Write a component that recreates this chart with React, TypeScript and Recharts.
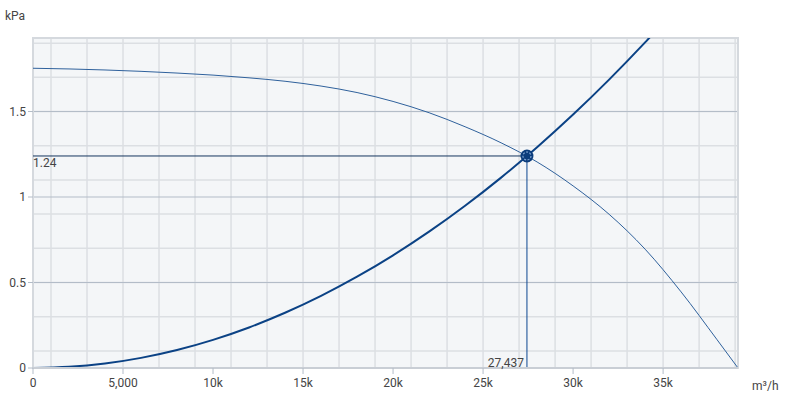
import React from 'react';
import {
  ComposedChart,
  Line,
  XAxis,
  YAxis,
  CartesianGrid,
  ReferenceLine,
  ReferenceDot,
  ReferenceArea,
} from 'recharts';

// pump curve (flow m³/h -> pressure kPa)
const pumpFlow = [0, 2000, 4000, 6000, 8000, 10000, 12000, 14000, 16000, 18000, 20000, 22000, 24000, 26000, 28000, 30000, 32000, 34000, 36000, 38000, 39160];
const pumpHead = [1.753, 1.749, 1.743, 1.735, 1.725, 1.713, 1.697, 1.677, 1.649, 1.611, 1.559, 1.493, 1.411, 1.317, 1.205, 1.065, 0.899, 0.695, 0.445, 0.165, 0];

// system curve
const sysFlow = [0, 2000, 4000, 6000, 8000, 10000, 12000, 14000, 16000, 18000, 20000, 22000, 24000, 26000, 27437, 28000, 30000, 32000, 34000, 36000];
const sysHead = [0, 0.0066, 0.0264, 0.0593, 0.1054, 0.1647, 0.2372, 0.3229, 0.4217, 0.5337, 0.6589, 0.7972, 0.9488, 1.1135, 1.24, 1.2914, 1.4825, 1.6867, 1.9042, 2.1348];

// operating point
const opFlow = 27437;
const opHead = 1.24;

const xTicks = [0, 5000, 10000, 15000, 20000, 25000, 30000, 35000];
const yTicks = [0, 0.5, 1, 1.5];
const X_MAX = 39160;
const Y_MAX = 1.93;

const xMinor = Array.from({ length: 39 }, (_, i) => (i + 1) * 1000);
const yMinor = Array.from({ length: 19 }, (_, i) => Math.round((i + 1) * 10) / 100);

const pumpData = pumpFlow.map((x, i) => ({ x, y: pumpHead[i] }));
const sysData = sysFlow.map((x, i) => ({ x, y: sysHead[i] }));

const FONT = 'Roboto, "Liberation Sans", sans-serif';
const TEXT = '#444';

const fmtX = (v: number) => (v === 0 ? '0' : v === 5000 ? '5,000' : `${v / 1000}k`);

const OpMarker = (props: any) => {
  const { cx, cy } = props;
  return (
    <g>
      <circle cx={cx} cy={cy} r={6.5} fill="#0c3d7c" />
      <circle cx={cx} cy={cy} r={4} fill="none" stroke="#7fa3d1" strokeWidth={1.2} strokeDasharray="2 1.5" />
    </g>
  );
};

export default function App() {
  return (
    <div style={{ position: 'absolute', left: 0, top: 0, width: 789, height: 403, background: '#fff', fontFamily: FONT }}>
      <div style={{ position: 'absolute', left: 5, top: 9, fontSize: 12, color: TEXT }}>kPa</div>
      <div style={{ position: 'absolute', left: 752, top: 379, fontSize: 12, color: TEXT }}>
        m³/h
      </div>
      <ComposedChart width={789} height={403} margin={{ top: 38, right: 51, left: 0, bottom: 0 }}>
        <CartesianGrid
          fill="#f4f6f8"
          stroke="#dcdfe3"
          strokeWidth={1.5}
          verticalValues={xMinor}
          horizontalValues={yMinor}
        />
        <CartesianGrid
          fill="none"
          stroke="#b3bcc8"
          strokeWidth={1}
          vertical={false}
          horizontalValues={[0.5, 1, 1.5]}
        />
        <XAxis
          type="number"
          dataKey="x"
          domain={[0, X_MAX]}
          ticks={xTicks}
          tickFormatter={fmtX}
          allowDataOverflow
          height={35}
          axisLine={{ stroke: '#c9ced5', strokeWidth: 2 }}
          tickLine={{ stroke: '#b3bcc8' }}
          tickSize={6}
          tick={{ fill: TEXT, fontSize: 12, fontFamily: FONT }}
          tickMargin={4}
        />
        <YAxis
          type="number"
          dataKey="y"
          domain={[0, Y_MAX]}
          ticks={yTicks}
          allowDataOverflow
          width={33}
          axisLine={false}
          tickLine={{ stroke: '#b3bcc8' }}
          tickSize={5}
          tick={{ fill: TEXT, fontSize: 12, fontFamily: FONT }}
          tickMargin={2}
        />
        <ReferenceArea
          x1={0}
          x2={X_MAX}
          y1={0}
          y2={Y_MAX}
          fill="none"
          stroke="#d5d9de"
          strokeWidth={2}
        />
        <Line
          data={pumpData}
          dataKey="y"
          type="monotone"
          stroke="#2f619c"
          strokeWidth={1}
          dot={false}
          isAnimationActive={false}
        />
        <Line
          data={sysData}
          dataKey="y"
          type="monotone"
          stroke="#0b4285"
          strokeWidth={2}
          dot={false}
          isAnimationActive={false}
        />
        <ReferenceLine
          segment={[{ x: 0, y: opHead }, { x: opFlow, y: opHead }]}
          stroke="#15355f"
          strokeWidth={1}
          label={{ value: '1.24', position: 'insideBottomLeft', fill: TEXT, fontSize: 12, fontFamily: FONT, dx: -5, dy: 16 }}
        />
        <ReferenceLine
          segment={[{ x: opFlow, y: 0 }, { x: opFlow, y: opHead }]}
          stroke="#0b4690"
          strokeWidth={1}
          label={{ value: '27,437', position: 'insideBottomRight', fill: TEXT, fontSize: 12, fontFamily: FONT, dx: 2, dy: 4 }}
        />
        <ReferenceDot x={opFlow} y={opHead} shape={OpMarker} />
      </ComposedChart>
    </div>
  );
}
